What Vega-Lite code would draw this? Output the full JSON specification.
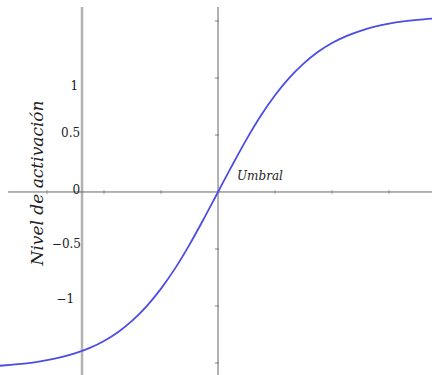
{
  "$schema": "https://vega.github.io/schema/vega-lite/v6.json",
  "width": 432,
  "height": 375,
  "padding": 0,
  "autosize": "none",
  "background": "white",
  "config": {"view": {"stroke": null}},
  "datasets": {
    "curve": [
      {"x": -3.83, "y": -3.049}, {"x": -3.5, "y": -3.021}, {"x": -3.25, "y": -2.992},
      {"x": -3.0, "y": -2.952}, {"x": -2.75, "y": -2.899}, {"x": -2.5, "y": -2.828},
      {"x": -2.25, "y": -2.735}, {"x": -2.0, "y": -2.613}, {"x": -1.75, "y": -2.455},
      {"x": -1.5, "y": -2.253}, {"x": -1.25, "y": -2.002}, {"x": -1.0, "y": -1.696},
      {"x": -0.75, "y": -1.336}, {"x": -0.5, "y": -0.923}, {"x": -0.25, "y": -0.471},
      {"x": 0, "y": 0}, {"x": 0.25, "y": 0.471}, {"x": 0.5, "y": 0.923},
      {"x": 0.75, "y": 1.336}, {"x": 1.0, "y": 1.696}, {"x": 1.25, "y": 2.002},
      {"x": 1.5, "y": 2.253}, {"x": 1.75, "y": 2.455}, {"x": 2.0, "y": 2.613},
      {"x": 2.25, "y": 2.735}, {"x": 2.5, "y": 2.828}, {"x": 2.75, "y": 2.899},
      {"x": 3.0, "y": 2.952}, {"x": 3.25, "y": 2.992}, {"x": 3.5, "y": 3.021},
      {"x": 3.76, "y": 3.043}
    ],
    "axes": [
      {"x": 0, "x2": 0, "y": 3.245, "y2": -3.25},
      {"x": -3.684, "x2": 3.76, "y": 0, "y2": 0}
    ],
    "guide": [
      {"x": -2.386, "x2": -2.386, "y": 3.245, "y2": -3.25}
    ],
    "vticks": [
      {"y": -3}, {"y": -2}, {"y": -1}, {"y": 1}, {"y": 2}, {"y": 3}
    ],
    "hticks": [
      {"x": -3}, {"x": -2}, {"x": -1}, {"x": 1}, {"x": 2}, {"x": 3}
    ],
    "labels": [
      {"label": "1", "x": -2.456, "y": 1.86},
      {"label": "0.5", "x": -2.42, "y": 1.035},
      {"label": "0", "x": -2.42, "y": 0.035},
      {"label": "−0.5", "x": -2.404, "y": -0.912},
      {"label": "−1", "x": -2.526, "y": -1.877}
    ],
    "notes": [
      {"label": "Umbral", "x": 0.333, "y": 0.28}
    ],
    "titles": [
      {"label": "Nivel de activación", "x": -3.158, "y": 0.158}
    ]
  },
  "layer": [
    {
      "data": {"name": "guide"},
      "mark": {"type": "rule", "color": "#b3b3b3", "strokeWidth": 2.5},
      "encoding": {
        "x": {"field": "x", "type": "quantitative", "scale": {"domain": [-3.825, 3.754], "nice": false, "zero": false}, "axis": null},
        "x2": {"field": "x2"},
        "y": {"field": "y", "type": "quantitative", "scale": {"domain": [-3.211, 3.368], "nice": false, "zero": false}, "axis": null},
        "y2": {"field": "y2"}
      }
    },
    {
      "data": {"name": "axes"},
      "mark": {"type": "rule", "color": "#666666", "strokeWidth": 1},
      "encoding": {
        "x": {"field": "x", "type": "quantitative"},
        "x2": {"field": "x2"},
        "y": {"field": "y", "type": "quantitative"},
        "y2": {"field": "y2"}
      }
    },
    {
      "data": {"name": "vticks"},
      "mark": {"type": "tick", "orient": "horizontal", "color": "#555555", "size": 4, "thickness": 1},
      "encoding": {
        "x": {"datum": -0.02, "type": "quantitative"},
        "y": {"field": "y", "type": "quantitative"}
      }
    },
    {
      "data": {"name": "hticks"},
      "mark": {"type": "tick", "orient": "vertical", "color": "#777777", "size": 4, "thickness": 1},
      "encoding": {
        "x": {"field": "x", "type": "quantitative"},
        "y": {"datum": 0, "type": "quantitative"}
      }
    },
    {
      "data": {"name": "curve"},
      "mark": {"type": "line", "color": "#4d4de6", "strokeWidth": 1.8, "interpolate": "monotone"},
      "encoding": {
        "x": {"field": "x", "type": "quantitative"},
        "y": {"field": "y", "type": "quantitative"}
      }
    },
    {
      "data": {"name": "labels"},
      "mark": {"type": "text", "font": "DejaVu Serif, serif", "fontSize": 12, "align": "right", "baseline": "middle", "color": "#222222"},
      "encoding": {
        "x": {"field": "x", "type": "quantitative"},
        "y": {"field": "y", "type": "quantitative"},
        "text": {"field": "label"}
      }
    },
    {
      "data": {"name": "notes"},
      "mark": {"type": "text", "font": "DejaVu Serif, serif", "fontSize": 12, "fontStyle": "italic", "align": "left", "baseline": "middle", "color": "#222222"},
      "encoding": {
        "x": {"field": "x", "type": "quantitative"},
        "y": {"field": "y", "type": "quantitative"},
        "text": {"field": "label"}
      }
    },
    {
      "data": {"name": "titles"},
      "mark": {"type": "text", "font": "DejaVu Serif, serif", "fontSize": 17, "fontStyle": "italic", "align": "center", "baseline": "middle", "angle": 270, "color": "#222222"},
      "encoding": {
        "x": {"field": "x", "type": "quantitative"},
        "y": {"field": "y", "type": "quantitative"},
        "text": {"field": "label"}
      }
    }
  ]
}
